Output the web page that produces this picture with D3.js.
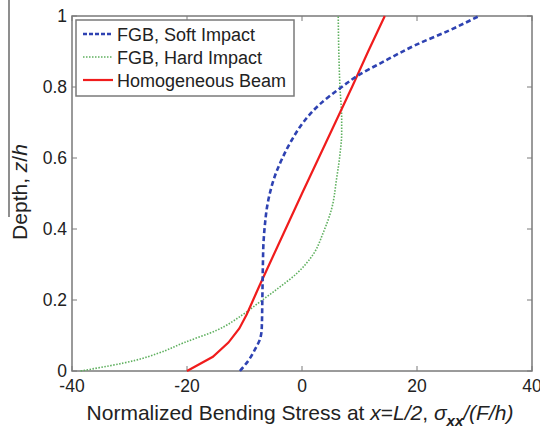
<!DOCTYPE html>
<html>
<head>
<meta charset="utf-8">
<script src="https://cdn.jsdelivr.net/npm/d3@7"></script>
<style>
  body { margin: 0; background: #fff; }
  svg { font-family: "Liberation Sans", Arial, sans-serif; }
</style>
</head>
<body>
<script>
// depth values (z/h) and stresses
var softZ = [0, 0.03, 0.06, 0.09, 0.12, 0.2, 0.3, 0.36, 0.42, 0.46, 0.5, 0.55, 0.6, 0.65, 0.7, 0.75, 0.8, 0.83, 0.87, 0.92, 0.96, 1.0];
var softS = [-10.8, -9.3, -8.2, -7.3, -7.0, -6.9, -6.8, -6.7, -6.4, -6.1, -5.6, -4.7, -3.4, -1.8, 0.2, 3.0, 6.9, 9.5, 14.0, 20.0, 25.7, 30.8];

var hardZ = [0, 0.03, 0.05, 0.08, 0.115, 0.16, 0.195, 0.23, 0.275, 0.33, 0.39, 0.46, 0.54, 0.61, 0.67, 0.71, 0.8, 0.9, 1.0];
var hardS = [-38.5, -29, -25, -20.5, -14.8, -10.2, -7.3, -4.4, -0.9, 2.0, 3.7, 5.2, 6.0, 6.6, 6.9, 6.9, 6.6, 6.4, 6.3];

var homoZ = [0, 0.04, 0.08, 0.12, 0.16, 0.2, 0.24, 0.3, 0.4, 0.5, 0.6, 0.7, 0.8, 0.9, 1.0];
var homoS = [-20, -15.5, -12.8, -10.9, -9.6, -8.5, -7.4, -5.7, -2.85, 0.0, 2.9, 5.8, 8.7, 11.5, 14.4];

var xTicks = [-40, -20, 0, 20, 40];
var yTicks = [0, 0.2, 0.4, 0.6, 0.8, 1];
var labels = ["FGB, Soft Impact", "FGB, Hard Impact", "Homogeneous Beam"];

var margin = {top: 16, right: 8, bottom: 61, left: 72},
    width = 540 - margin.left - margin.right,
    height = 432 - margin.top - margin.bottom;

var svg = d3.select("body").append("svg")
    .attr("width", 540)
    .attr("height", 432);

var g = svg.append("g")
    .attr("transform", "translate(" + margin.left + "," + margin.top + ")");

var x = d3.scaleLinear().domain([-40, 40]).range([0, width]);
var y = d3.scaleLinear().domain([0, 1]).range([height, 0]);

var axisColor = "#7a7a7a";

// frame
g.append("rect")
    .attr("width", width)
    .attr("height", height)
    .attr("fill", "none")
    .attr("stroke", axisColor)
    .attr("stroke-width", 1.5);

// inward ticks on all four sides
var tl = 5;
xTicks.forEach(function(t) {
  g.append("line").attr("x1", x(t)).attr("x2", x(t)).attr("y1", height).attr("y2", height - tl)
      .attr("stroke", axisColor);
  g.append("line").attr("x1", x(t)).attr("x2", x(t)).attr("y1", 0).attr("y2", tl)
      .attr("stroke", axisColor);
});
yTicks.forEach(function(t) {
  g.append("line").attr("x1", 0).attr("x2", tl).attr("y1", y(t)).attr("y2", y(t))
      .attr("stroke", axisColor);
  g.append("line").attr("x1", width).attr("x2", width - tl).attr("y1", y(t)).attr("y2", y(t))
      .attr("stroke", axisColor);
});

// tick labels
g.selectAll(".xt").data(xTicks).enter().append("text")
    .attr("x", function(d) { return x(d); })
    .attr("y", height + 21)
    .attr("text-anchor", "middle")
    .style("font-size", "17.5px")
    .attr("fill", "#222")
    .text(function(d) { return d; });

g.selectAll(".yt").data(yTicks).enter().append("text")
    .attr("x", -5)
    .attr("y", function(d) { return y(d) + 6; })
    .attr("text-anchor", "end")
    .style("font-size", "17.5px")
    .attr("fill", "#222")
    .text(function(d) { return d; });

// curves
function makeLine(zs, ss, curve) {
  var pts = zs.map(function(z, i) { return [ss[i], z]; });
  return d3.line()
      .x(function(d) { return x(d[0]); })
      .y(function(d) { return y(d[1]); })
      .curve(curve)(pts);
}

g.append("path")
    .attr("d", makeLine(hardZ, hardS, d3.curveMonotoneY))
    .attr("fill", "none")
    .attr("stroke", "#5fb05f")
    .attr("stroke-width", 1.6)
    .attr("stroke-dasharray", "1.5,1.5");

g.append("path")
    .attr("d", makeLine(homoZ, homoS, d3.curveLinear))
    .attr("fill", "none")
    .attr("stroke", "#f01c1c")
    .attr("stroke-width", 2.2);

g.append("path")
    .attr("d", makeLine(softZ, softS, d3.curveMonotoneY))
    .attr("fill", "none")
    .attr("stroke", "#2e42b2")
    .attr("stroke-width", 2.6)
    .attr("stroke-dasharray", "5,3");

// legend
var leg = svg.append("g").attr("transform", "translate(76,20)");
leg.append("rect")
    .attr("width", 218)
    .attr("height", 76)
    .attr("fill", "#fff")
    .attr("stroke", axisColor)
    .attr("stroke-width", 1.5);

var legStyles = [
  {stroke: "#2e42b2", w: 2.6, dash: "4,2"},
  {stroke: "#5fb05f", w: 1.6, dash: "1.5,1.5"},
  {stroke: "#f01c1c", w: 2.2, dash: null}
];
labels.forEach(function(lab, i) {
  var cy = 14 + i * 23;
  leg.append("line")
      .attr("x1", 7).attr("x2", 37)
      .attr("y1", cy).attr("y2", cy)
      .attr("stroke", legStyles[i].stroke)
      .attr("stroke-width", legStyles[i].w)
      .attr("stroke-dasharray", legStyles[i].dash);
  leg.append("text")
      .attr("x", 41)
      .attr("y", cy + 6.5)
      .style("font-size", "18px")
      .attr("fill", "#222")
      .text(lab);
});

// axis titles
var xl = svg.append("text")
    .attr("x", 300)
    .attr("y", 420)
    .attr("text-anchor", "middle")
    .style("font-size", "21px")
    .attr("fill", "#222");
xl.append("tspan").text("Normalized Bending Stress at ");
xl.append("tspan").style("font-style", "italic").text("x");
xl.append("tspan").text("=");
xl.append("tspan").style("font-style", "italic").text("L/2");
xl.append("tspan").text(", ");
xl.append("tspan").style("font-style", "italic").text("\u03c3");
xl.append("tspan").style("font-style", "italic").style("font-weight", "bold")
    .style("font-size", "15px").attr("dy", 6).text("xx");
xl.append("tspan").attr("dy", -6).style("font-style", "italic").text("/(F/h)");

var yl = svg.append("text")
    .attr("transform", "translate(27,192) rotate(-90)")
    .attr("text-anchor", "middle")
    .style("font-size", "21px")
    .attr("fill", "#222");
yl.append("tspan").text("Depth, ");
yl.append("tspan").style("font-style", "italic").text("z");
yl.append("tspan").text("/");
yl.append("tspan").style("font-style", "italic").text("h");

// stray vertical rule at the far left of the original figure
svg.append("line")
    .attr("x1", 9).attr("x2", 9)
    .attr("y1", 0).attr("y2", 217)
    .attr("stroke", "#444")
    .attr("stroke-width", 1.2);
</script>
</body>
</html>
